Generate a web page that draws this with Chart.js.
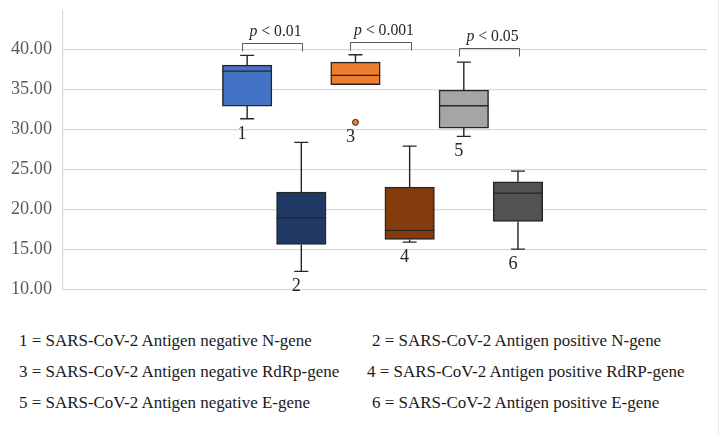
<!DOCTYPE html>
<html>
<head>
<meta charset="utf-8">
<script src="https://cdn.jsdelivr.net/npm/chart.js@4"></script>
<style>
  body { margin: 0; background: #fff; }
  #wrap { position: relative; width: 727px; height: 435px; overflow: hidden; }
  #chartBox { position: absolute; left: 0; top: 0; width: 727px; height: 310px; }
  #edge { position: absolute; left: 718px; top: 0; width: 1px; height: 435px; background: #ececec; }
  .key { position: absolute; font-family: "Liberation Serif", "DejaVu Serif", serif; line-height: 31px; color: #1a1a1a; white-space: nowrap; }
</style>
</head>
<body>
<div id="wrap">
  <div id="chartBox"><canvas id="boxChart"></canvas></div>
  <div id="edge"></div>
  <div id="keys"></div>
</div>
<script>
// groups 1..6
const groups = ['1', '2', '3', '4', '5', '6'];
const whiskerLow = [31.33, 12.25, 35.58, 15.91, 29.13, 15.04];
const q1 = [32.91, 15.62, 35.58, 16.25, 30.16, 18.50];
const median = [37.29, 18.95, 36.75, 17.38, 32.95, 22.04];
const q3 = [38.04, 22.16, 38.41, 22.79, 34.91, 23.45];
const whiskerHigh = [39.25, 28.38, 39.33, 27.91, 38.41, 24.79];
const outlierGroup = [3];
const outlierValue = [30.88];

const yTicks = [10, 15, 20, 25, 30, 35, 40];

// significance brackets between pairs
const pPairs = [[1, 2], [3, 4], [5, 6]];
const pText = ['0.01', '0.001', '0.05'];
const pLevel = [40.75, 40.9, 40.2];

const keyText = [
    '1 = SARS-CoV-2 Antigen negative N-gene',
    '2 = SARS-CoV-2 Antigen positive N-gene',
    '3 = SARS-CoV-2 Antigen negative RdRp-gene',
    '4 = SARS-CoV-2 Antigen positive RdRP-gene',
    '5 = SARS-CoV-2 Antigen negative E-gene',
    '6 = SARS-CoV-2 Antigen positive E-gene'
];

const boxColors = ['#4472C4', '#203864', '#ED7D31', '#843C0C', '#A5A5A5', '#525252'];
const lineDark = '#262626';
const serif = '"Liberation Serif", "DejaVu Serif", serif';

// pick a font size so a sample string gets the width seen in the picture
const measureCtx = document.createElement('canvas').getContext('2d');
function fitSize(sample, target, style) {
    measureCtx.font = (style || '') + ' 20px ' + serif;
    return 20 * target / measureCtx.measureText(sample).width;
}
const tickSize = fitSize('40.00', 41);
const labelSize = tickSize;
const pSize = fitSize('p < 0.01', 52);
const keySize = fitSize(keyText[0], 294);

// legend rows below the chart
const keys = document.getElementById('keys');
keyText.forEach((t, i) => {
    const d = document.createElement('div');
    d.className = 'key';
    d.style.fontSize = keySize + 'px';
    d.textContent = t;
    const col = i % 2, row = Math.floor(i / 2);
    d.style.top = (325 + row * 31) + 'px';
    d.style.left = col === 0 ? '19px' : (row === 1 ? '367px' : '372px');
    keys.appendChild(d);
});

const boxExtras = {
    id: 'boxExtras',
    afterDatasetsDraw(chart) {
        const { ctx, scales: { x, y } } = chart;
        const bars = chart.getDatasetMeta(0).data;
        ctx.save();
        ctx.strokeStyle = lineDark;
        ctx.lineWidth = 1.4;
        groups.forEach((g, i) => {
            const xc = x.getPixelForValue(i + 1);
            const half = bars[i].width / 2;
            const cap = 7;
            ctx.beginPath();
            // upper whisker
            if (whiskerHigh[i] > q3[i]) {
                ctx.moveTo(xc, y.getPixelForValue(q3[i]));
                ctx.lineTo(xc, y.getPixelForValue(whiskerHigh[i]));
                ctx.moveTo(xc - cap, y.getPixelForValue(whiskerHigh[i]));
                ctx.lineTo(xc + cap, y.getPixelForValue(whiskerHigh[i]));
            }
            // lower whisker
            if (whiskerLow[i] < q1[i]) {
                ctx.moveTo(xc, y.getPixelForValue(q1[i]));
                ctx.lineTo(xc, y.getPixelForValue(whiskerLow[i]));
                ctx.moveTo(xc - cap, y.getPixelForValue(whiskerLow[i]));
                ctx.lineTo(xc + cap, y.getPixelForValue(whiskerLow[i]));
            }
            // median
            ctx.moveTo(xc - half, y.getPixelForValue(median[i]));
            ctx.lineTo(xc + half, y.getPixelForValue(median[i]));
            ctx.stroke();
        });

        // group numbers under each box
        ctx.fillStyle = lineDark;
        ctx.font = labelSize + 'px ' + serif;
        ctx.textAlign = 'center';
        ctx.textBaseline = 'middle';
        groups.forEach((g, i) => {
            let lowest = whiskerLow[i];
            outlierGroup.forEach((og, k) => {
                if (og === i + 1) lowest = Math.min(lowest, outlierValue[k]);
            });
            ctx.fillText(g, x.getPixelForValue(i + 1) - 5, y.getPixelForValue(lowest) + 15);
        });

        // p-value brackets
        ctx.strokeStyle = '#595959';
        ctx.lineWidth = 1;
        pPairs.forEach((pair, k) => {
            const x1 = Math.round(x.getPixelForValue(pair[0])) - 4.5;
            const x2 = Math.round(x.getPixelForValue(pair[1])) + 1.5;
            const yt = Math.round(y.getPixelForValue(pLevel[k])) + 0.5;
            ctx.beginPath();
            ctx.moveTo(x1, yt + 8);
            ctx.lineTo(x1, yt);
            ctx.lineTo(x2, yt);
            ctx.lineTo(x2, yt + 8);
            ctx.stroke();

            const rest = ' < ' + pText[k];
            ctx.textAlign = 'left';
            ctx.textBaseline = 'alphabetic';
            ctx.font = 'italic ' + pSize + 'px ' + serif;
            const wp = ctx.measureText('p').width;
            ctx.font = pSize + 'px ' + serif;
            const wr = ctx.measureText(rest).width;
            const left = (x1 + x2) / 2 + 3 - (wp + wr) / 2;
            ctx.fillStyle = lineDark;
            ctx.font = 'italic ' + pSize + 'px ' + serif;
            ctx.fillText('p', left, yt - 8);
            ctx.font = pSize + 'px ' + serif;
            ctx.fillText(rest, left + wp, yt - 8);
        });
        ctx.restore();
    }
};

new Chart(document.getElementById('boxChart').getContext('2d'), {
    data: {
        datasets: [{
            type: 'bar',
            data: groups.map((g, i) => ({ x: i + 1, y: [q1[i], q3[i]] })),
            backgroundColor: boxColors,
            borderColor: lineDark,
            borderWidth: 1.5,
            borderSkipped: false,
            barThickness: 49.5
        }, {
            type: 'scatter',
            data: outlierGroup.map((g, k) => ({ x: g, y: outlierValue[k] })),
            backgroundColor: boxColors[2],
            borderColor: lineDark,
            borderWidth: 1,
            pointRadius: 3
        }]
    },
    options: {
        responsive: true,
        maintainAspectRatio: false,
        animation: false,
        layout: { padding: { top: 11, right: 20, bottom: 20.6, left: 0 } },
        plugins: { legend: { display: false }, tooltip: { enabled: false } },
        scales: {
            x: { type: 'linear', min: -2.4, max: 9.49, offset: false, grid: { offset: false }, display: false },
            y: {
                min: 10,
                max: 44.8,
                afterBuildTicks: s => { s.ticks = yTicks.map(v => ({ value: v })); },
                afterFit: s => { s.width = 63; s.paddingTop = 0; s.paddingBottom = 0; },
                ticks: {
                    padding: 11,
                    color: '#595959',
                    font: { family: serif, size: tickSize },
                    callback: v => Number(v).toFixed(2)
                },
                grid: { color: '#d9d9d9', lineWidth: 1.2, drawTicks: false },
                border: { color: '#d9d9d9', width: 1.2 }
            }
        }
    },
    plugins: [boxExtras]
});
</script>
</body>
</html>
